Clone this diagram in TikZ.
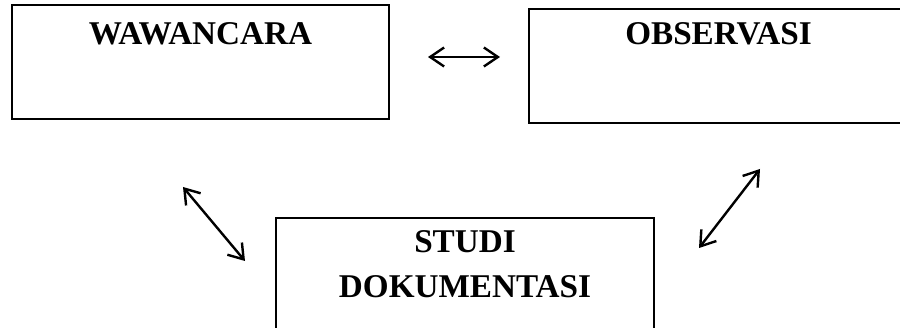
\documentclass[tikz,border=0pt]{standalone}
\usepackage{fontspec}
\setmainfont{Liberation Serif}
\usetikzlibrary{arrows.meta}
\begin{document}
\begin{tikzpicture}[x=1pt,y=-1pt,
  box/.style={draw, line width=1.7pt, minimum width=#1, minimum height=114pt, inner sep=0pt},
  lbl/.style={anchor=base, font=\fontsize{33.2}{45}\selectfont\bfseries, align=center, inner sep=0pt},
  tip/.style={Straight Barb[length=14pt,width=19pt,line width=2.4pt]},
  link/.style={line width=2.4pt, {Straight Barb[length=14pt,width=19pt,line width=2.4pt]}-{Straight Barb[length=14pt,width=19pt,line width=2.4pt]}}]
\useasboundingbox (0,0) rectangle (900,328);
\node[box=377pt] (wbox) at (200.5,62) {};
\node[box=379pt] (obox) at (718.5,66) {};
\node[box=378pt] (sbox) at (465,275) {};
\node[lbl] (wtext) at (200.5,45) {WAWANCARA};
\node[lbl] (otext) at (718.5,45) {OBSERVASI};
\node[lbl] (stext) at (465,298) {STUDI\\DOKUMENTASI};
\coordinate (h1) at (428,57);
\coordinate (h2) at (500,57);
\coordinate (r1) at (760,169);
\coordinate (r2) at (699,248);
\coordinate (l1) at (183,187);
\coordinate (l2) at (245,261);
\draw[link] (h1) -- (h2);
\draw[link] (r1) -- (r2);
\draw[link] (l1) -- (l2);
\end{tikzpicture}
\end{document}
